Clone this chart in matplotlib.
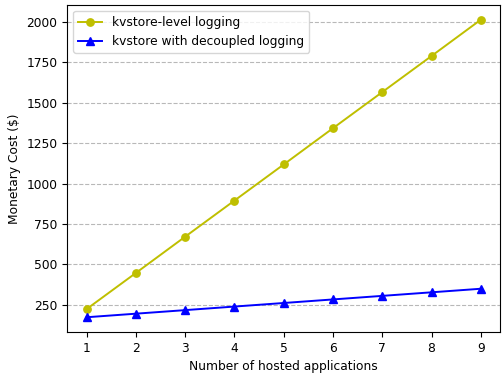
import matplotlib
matplotlib.use("Agg")
import matplotlib.pyplot as plt

apps = [1, 2, 3, 4, 5, 6, 7, 8, 9]
kvstore_level = [225, 448, 672, 895, 1118, 1342, 1565, 1788, 2012]
decoupled = [174, 196, 218, 240, 262, 284, 306, 328, 350]

plt.rcParams["font.size"] = 8.8

fig = plt.figure(figsize=(5.04, 3.74), dpi=100)
ax = fig.add_axes([0.133, 0.112, 0.86, 0.875])

ax.plot(apps, kvstore_level, color="y", marker="o", markersize=5.3,
        linewidth=1.4, label="kvstore-level logging")
ax.plot(apps, decoupled, color="b", marker="^", markersize=5.3,
        linewidth=1.4, label="kvstore with decoupled logging")

ax.set_xticks(apps)
ax.yaxis.grid(True, linestyle="--", color="#b8b8b8")
ax.set_xlabel("Number of hosted applications")
ax.set_ylabel("Monetary Cost ($)")
ax.legend(loc="upper left")

fig.savefig("out.png", dpi=100)
